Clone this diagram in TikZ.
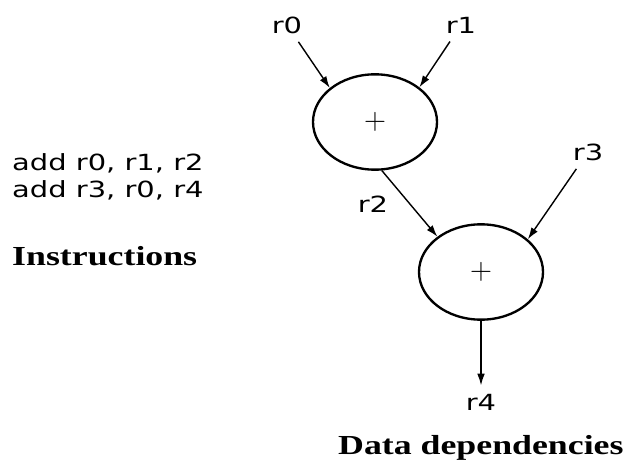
\documentclass[tikz,border=0pt]{standalone}
\usepackage{fontspec}
\newfontfamily\regfont[FakeStretch=1.3]{DejaVu Sans}
\newfontfamily\capfont[FakeStretch=1.3]{Liberation Serif Bold}
\usetikzlibrary{arrows.meta,positioning,shapes.geometric}

\begin{document}
\begin{tikzpicture}[
x=0.03cm, y=-0.03cm,
reg/.style={inner sep=7pt, font=\regfont\fontsize{19}{23}\selectfont},
op/.style={draw, ellipse, line width=2pt, minimum width=3.72cm, minimum height=2.86cm, font=\fontsize{26}{26}\selectfont},
heading/.style={inner sep=0pt, anchor=base west, font=\capfont\fontsize{23.5}{27}\selectfont},
arr/.style={-{Latex[length=10pt,width=6.5pt]}, line width=1.2pt}
]
\useasboundingbox (0,0) rectangle (626,460);

% instructions
\node[reg, inner sep=0pt, anchor=north west, align=left] (code) at (12,153) {add r0, r1, r2\\add r3, r0, r4};
\node[heading] (instr) at (12,265) {Instructions};

% data dependencies
\node[op] (add1) at (375,122) {+};
\node[op] (add2) at (481,272) {+};
\node[reg] (r0) at (287,25) {r0};
\node[reg] (r1) at (461,25) {r1};
\node[reg] (r2) at (373,204) {r2};
\node[reg] (r3) at (588,152) {r3};
\node[reg] (r4) at (481,402) {r4};
\node[heading] (deps) at (338,454) {Data dependencies};

\draw[arr] (r0) -- (add1.143);
\draw[arr] (r1) -- (add1.38);
\draw[arr] (add1.-82) -- (add2.141);
\draw[arr] (r3) -- (add2.35);
\draw[arr] (add2) -- (r4);
\end{tikzpicture}
\end{document}
